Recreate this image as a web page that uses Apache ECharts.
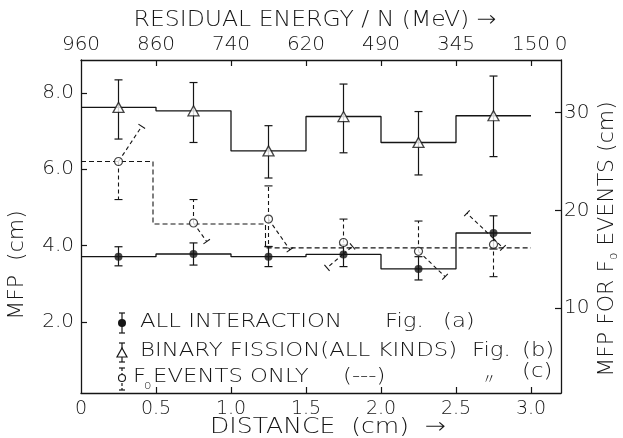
<!DOCTYPE html>
<html><head><meta charset="utf-8">
<script src="https://cdn.jsdelivr.net/npm/echarts@6/dist/echarts.min.js"></script>
<style>html,body{margin:0;padding:0;background:#fff}#c{width:623px;height:438px}</style>
</head><body><div id="c"></div>
<script>
// ---- data ----
const binEdges   = [0, 0.5, 1.0, 1.5, 2.0, 2.5, 3.0];
const binCenters = [0.25, 0.75, 1.25, 1.75, 2.25, 2.75];
// (a) all interaction MFP (cm), left axis
const allInter   = [3.71, 3.78, 3.71, 3.77, 3.39, 4.33];
const allInterLo = [3.47, 3.49, 3.45, 3.45, 3.10, 3.91];
const allInterHi = [3.97, 4.07, 3.97, 4.02, 3.71, 4.78];
// (b) binary fission MFP (cm), left axis
const binary     = [7.62, 7.53, 6.48, 7.38, 6.70, 7.40];
const binaryLo   = [6.79, 6.70, 5.77, 6.43, 5.85, 6.33];
const binaryHi   = [8.34, 8.27, 7.14, 8.23, 7.51, 8.44];
// (c) F0 events MFP (cm), right axis
const f0StepX    = [0, 0.48, 1.23, 3.0];
const f0StepY    = [25.0, 18.6, 16.15, 16.15];
const f0Points   = [25.0, 18.7, 19.1, 16.7, 15.8, 16.5];
// dashed error segments: [xFrom, yFrom, xTo(capped end), yTo]
const f0ErrSegs = [
  [0.25, 25.0, 0.25, 21.1], [0.25, 25.0, 0.405, 28.6],
  [0.75, 18.7, 0.75, 21.1], [0.75, 18.7, 0.838, 16.8],
  [1.25, 19.1, 1.25, 22.5], [1.25, 19.1, 1.25, 16.3], [1.25, 19.1, 1.393, 15.95],
  [1.75, 16.7, 1.75, 19.1], [1.747, 15.5, 1.64, 14.1], [1.747, 15.5, 1.81, 16.3],
  [2.25, 15.8, 2.25, 18.9], [2.25, 15.8, 2.427, 13.2],
  [2.75, 16.5, 2.75, 13.2], [2.747, 17.15, 2.573, 19.7], [2.747, 17.15, 2.813, 16.15]
];
// axes
const bottomTickVals = [0.5, 1.0, 1.5, 2.0, 2.5, 3.0];
const labelVals      = [0, 0.5, 1.0, 1.5, 2.0, 2.5, 3.0, 3.2];
const bottomLabels   = ['0', '0.5', '1.0', '1.5', '2.0', '2.5', '3.0', '3.2'];
const topLabels      = ['960', '860', '740', '620', '490', '345', '150', '0'];
const leftTicks      = [2, 4, 6, 8];
const rightTicks     = [10, 20, 30];

// ---- chart ----
const INK = '#151515';
const FONT = 'DejaVu Sans';
const FW = 200;
const chart = echarts.init(document.getElementById('c'), null, {renderer: 'canvas'});

function stepData(xs, ys) { return xs.map((x, i) => [x, ys[i]]); }
const histA = stepData(binEdges, allInter.concat([allInter[5]]));
const histB = stepData(binEdges, binary.concat([binary[5]]));
const f0Step = stepData(f0StepX, f0StepY);

function lookup(vals, labels) {
  return v => { for (let i = 0; i < vals.length; i++) if (Math.abs(v - vals[i]) < 1e-6) return labels[i]; return ''; };
}

function errBarItem(params, api) {
  const x = api.value(0), lo = api.value(1), hi = api.value(2);
  const a = api.coord([x, lo]), b = api.coord([x, hi]);
  const w = 4, st = {stroke: INK, lineWidth: 1.2};
  return {type: 'group', children: [
    {type: 'line', shape: {x1: a[0], y1: a[1], x2: b[0], y2: b[1]}, style: st},
    {type: 'line', shape: {x1: a[0] - w, y1: a[1], x2: a[0] + w, y2: a[1]}, style: st},
    {type: 'line', shape: {x1: b[0] - w, y1: b[1], x2: b[0] + w, y2: b[1]}, style: st}
  ]};
}
function dashSegItem(params, api) {
  const a = api.coord([api.value(0), api.value(1)]);
  const b = api.coord([api.value(2), api.value(3)]);
  const dx = b[0] - a[0], dy = b[1] - a[1], L = Math.hypot(dx, dy) || 1;
  const nx = -dy / L * 4, ny = dx / L * 4;
  return {type: 'group', children: [
    {type: 'line', shape: {x1: a[0], y1: a[1], x2: b[0], y2: b[1]}, style: {stroke: INK, lineWidth: 1.1, lineDash: [4, 3]}},
    {type: 'line', shape: {x1: b[0] - nx, y1: b[1] - ny, x2: b[0] + nx, y2: b[1] + ny}, style: {stroke: INK, lineWidth: 1.1}}
  ]};
}

const axisCommon = {
  type: 'value', min: 0, max: 3.2,
  axisLine: {show: true, onZero: false, lineStyle: {color: INK, width: 1.3}},
  splitLine: {show: false},
};

const option = {
  backgroundColor: '#ffffff',
  animation: false,
  textStyle: {fontFamily: FONT, fontWeight: FW},
  grid: {left: 81, right: 62, top: 60, bottom: 45},
  xAxis: [
    Object.assign({}, axisCommon, {
      position: 'bottom',
      axisTick: {show: true, inside: true, length: 6, customValues: bottomTickVals, lineStyle: {color: INK, width: 1.2}},
      axisLabel: {customValues: labelVals, formatter: lookup(labelVals, bottomLabels), fontSize: 19, margin: 7, color: INK, fontFamily: FONT, fontWeight: FW}
    }),
    Object.assign({}, axisCommon, {
      position: 'top',
      axisTick: {show: true, inside: true, length: 6, customValues: bottomTickVals, lineStyle: {color: INK, width: 1.2}},
      axisLabel: {customValues: labelVals, formatter: lookup(labelVals, topLabels), fontSize: 20, margin: 5, color: INK, fontFamily: FONT, fontWeight: FW}
    })
  ],
  yAxis: [
    {type: 'value', min: 0.14, max: 8.86, position: 'left',
     axisLine: {show: true, onZero: false, lineStyle: {color: INK, width: 1.3}},
     splitLine: {show: false},
     axisTick: {show: true, inside: true, length: 6, customValues: leftTicks, lineStyle: {color: INK, width: 1.2}},
     axisLabel: {customValues: leftTicks, formatter: v => v.toFixed(1), fontSize: 20, margin: 7, color: INK, fontFamily: FONT, fontWeight: FW}},
    {type: 'value', min: 1.28, max: 35.4, position: 'right',
     axisLine: {show: true, onZero: false, lineStyle: {color: INK, width: 1.3}},
     splitLine: {show: false},
     axisTick: {show: true, inside: true, length: 6, customValues: rightTicks, lineStyle: {color: INK, width: 1.2}},
     axisLabel: {customValues: rightTicks, formatter: v => String(v), fontSize: 20, margin: 3, color: INK, fontFamily: FONT, fontWeight: FW}}
  ],
  series: [
    {type: 'line', name: 'F0 step', data: f0Step, yAxisIndex: 1, step: 'end', symbol: 'none',
     lineStyle: {color: INK, width: 1.1, type: [5, 3]}, z: 2},
    {type: 'custom', name: 'F0 err', yAxisIndex: 1, data: f0ErrSegs, renderItem: dashSegItem,
     encode: {x: [0, 2], y: [1, 3]}, z: 3},
    {type: 'line', name: 'all step', data: histA, step: 'end', symbol: 'none',
     lineStyle: {color: INK, width: 1.3}, z: 2},
    {type: 'line', name: 'binary step', data: histB, step: 'end', symbol: 'none',
     lineStyle: {color: INK, width: 1.3}, z: 2},
    {type: 'custom', name: 'all err', data: binCenters.map((x, i) => [x, allInterLo[i], allInterHi[i]]),
     renderItem: errBarItem, encode: {x: 0, y: [1, 2]}, z: 3},
    {type: 'custom', name: 'binary err', data: binCenters.map((x, i) => [x, binaryLo[i], binaryHi[i]]),
     renderItem: errBarItem, encode: {x: 0, y: [1, 2]}, z: 3},
    {type: 'scatter', name: 'F0 events', yAxisIndex: 1, data: binCenters.map((x, i) => [x, f0Points[i]]),
     symbol: 'circle', symbolSize: 8, itemStyle: {color: '#fff', borderColor: INK, borderWidth: 1.2}, z: 5},
    {type: 'scatter', name: 'all interaction', data: binCenters.map((x, i) => [x, allInter[i]]),
     symbol: 'circle', symbolSize: 8, itemStyle: {color: INK}, z: 6},
    {type: 'scatter', name: 'binary fission', data: binCenters.map((x, i) => [x, binary[i]]),
     symbol: 'triangle', symbolSize: [11, 10], itemStyle: {color: '#fff', borderColor: INK, borderWidth: 1.3}, z: 6}
  ],
  graphic: []
};

// ---- titles & legend (text) ----
const G = option.graphic;
function txt(x, y, s, size, opts) {
  opts = opts || {};
  G.push({type: 'text', x: x, y: y, rotation: opts.rotation || 0, scaleX: opts.sx || 1,
    style: Object.assign({text: s, fontSize: size, fontFamily: FONT, fontWeight: FW, fill: INK,
      textAlign: 'left', textVerticalAlign: 'middle'}, opts.style || {})});
}
txt(315, 20, 'RESIDUAL ENERGY / N (MeV) →', 22, {sx: 1.07, style: {textAlign: 'center'}});
txt(328, 427, 'DISTANCE  (cm)  →', 22, {sx: 1.14, style: {textAlign: 'center'}});
txt(17, 265, 'MFP  (cm)', 22, {rotation: Math.PI / 2, style: {textAlign: 'center'}});
G.push({type: 'text', x: 607, y: 239, rotation: Math.PI / 2, style: {
  text: '{n|MFP FOR F}{s|o}{n| EVENTS (cm)}', fontFamily: FONT, fontWeight: FW, fill: INK, textAlign: 'center', textVerticalAlign: 'middle',
  rich: {n: {fontSize: 22, fontFamily: FONT, fontWeight: FW, fill: INK, lineHeight: 26},
         s: {fontSize: 12, fontFamily: FONT, fontWeight: FW, fill: INK, lineHeight: 12, verticalAlign: 'bottom'}}}});

// legend markers
const st = {stroke: INK, lineWidth: 1.2};
function vbar(x, y1, y2, dashed) {
  G.push({type: 'line', shape: {x1: x, y1: y1, x2: x, y2: y2}, style: Object.assign({}, st, dashed ? {lineDash: [3, 2]} : {})});
  G.push({type: 'line', shape: {x1: x - 3, y1: y1, x2: x + 3, y2: y1}, style: st});
  G.push({type: 'line', shape: {x1: x - 3, y1: y2, x2: x + 3, y2: y2}, style: st});
}
vbar(122, 313, 333); G.push({type: 'circle', shape: {cx: 122, cy: 323, r: 4}, style: {fill: INK}});
vbar(122, 343, 362); G.push({type: 'polygon', shape: {points: [[122, 348], [127, 357], [117, 357]]}, style: {fill: '#fff', stroke: INK, lineWidth: 1.2}});
vbar(122, 368, 390, true); G.push({type: 'circle', shape: {cx: 122, cy: 378, r: 3.5}, style: {fill: '#fff', stroke: INK, lineWidth: 1.1}});

const LS = 1.14;
txt(140, 322, 'ALL INTERACTION', 20, {sx: LS});
txt(385, 322, 'Fig.', 20, {sx: LS});
txt(443, 322, '(a)', 20, {sx: LS});
txt(140, 351, 'BINARY FISSION(ALL KINDS)', 20, {sx: LS});
txt(472, 351, 'Fig.', 20, {sx: LS});
txt(522, 351, '(b)', 20, {sx: LS});
txt(133, 377, 'F', 20, {sx: LS});
txt(144, 386, 'o', 12);
txt(153, 377, 'EVENTS ONLY', 20, {sx: LS});
txt(343, 377, '(---)', 20, {sx: LS});
txt(482, 378, '〃', 14, {style: {fontFamily: 'Noto Sans CJK JP'}});
txt(522, 372, '(c)', 20, {sx: LS});

chart.setOption(option);
</script></body></html>
